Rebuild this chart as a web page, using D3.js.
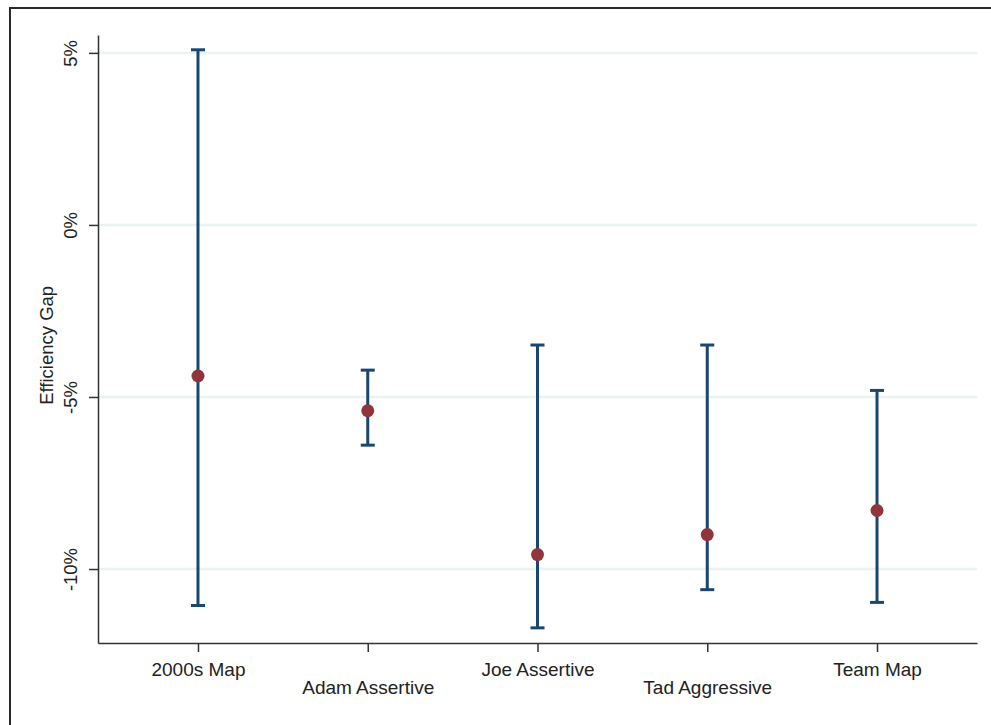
<!DOCTYPE html>
<html>
<head>
<meta charset="utf-8">
<script src="https://cdn.jsdelivr.net/npm/d3@7"></script>
<style>
  body { margin: 0; background: #fff; }
  svg { display: block; font-family: Arial, "Liberation Sans", sans-serif; }
</style>
</head>
<body>
<div id="chart"></div>
<script>
// plans and their estimates (efficiency gap, %)
const plans = ["2000s Map", "Adam Assertive", "Joe Assertive", "Tad Aggressive", "Team Map"];
const estimate = [-4.39, -5.40, -9.58, -9.00, -8.30];
const upper = [5.09, -4.22, -3.49, -3.49, -4.81];
const lower = [-11.06, -6.40, -11.71, -10.60, -10.97];
const yTicks = [5, 0, -5, -10];

const width = 991;
const height = 725;
const plotLeft = 98, plotRight = 977, plotTop = 35, plotBottom = 643;

const svg = d3.select("#chart").append("svg")
  .attr("width", width)
  .attr("height", height);

// outer frame (only top and left visible in the crop)
svg.append("rect")
  .attr("x", 10)
  .attr("y", 8)
  .attr("width", 1000)
  .attr("height", 760)
  .attr("fill", "none")
  .attr("stroke", "#2a2a2a")
  .attr("stroke-width", 2);

const x = d3.scalePoint()
  .domain(plans)
  .range([plotLeft, plotRight])
  .padding(0.589);

const y = d3.scaleLinear()
  .domain([-12.15, 5.52])
  .range([plotBottom, plotTop]);

// gridlines
svg.selectAll("line.grid")
  .data(yTicks)
  .enter()
  .append("line")
  .attr("class", "grid")
  .attr("x1", plotLeft + 1)
  .attr("x2", plotRight)
  .attr("y1", (d) => y(d))
  .attr("y2", (d) => y(d))
  .attr("stroke", "#eaf2f3")
  .attr("stroke-width", 2.5);

// y axis
const yAxis = svg.append("g")
  .attr("transform", `translate(${plotLeft},0)`)
  .call(d3.axisLeft(y).tickValues(yTicks).tickSize(9).tickFormat((d) => d + "%").tickSizeOuter(0));
yAxis.select(".domain").attr("stroke", "#333").attr("stroke-width", 1.5);
yAxis.selectAll(".tick line").attr("stroke", "#333").attr("stroke-width", 1.5);
yAxis.selectAll(".tick text")
  .attr("font-size", 18.5)
  .attr("fill", "#222")
  .attr("x", 0)
  .attr("dy", 0)
  .attr("text-anchor", "middle")
  .attr("transform", "translate(-21,0) rotate(-90)");

svg.append("text")
  .attr("transform", `translate(53,${y(-3.5)}) rotate(-90)`)
  .attr("text-anchor", "middle")
  .attr("font-size", 18.5)
  .attr("fill", "#222")
  .text("Efficiency Gap");

// x axis
const xAxis = svg.append("g")
  .attr("transform", `translate(0,${plotBottom})`)
  .call(d3.axisBottom(x).tickSize(9).tickSizeOuter(0));
xAxis.select(".domain").attr("stroke", "#333").attr("stroke-width", 1.5);
xAxis.selectAll(".tick line").attr("stroke", "#333").attr("stroke-width", 1.5);
xAxis.selectAll(".tick text")
  .attr("font-size", 19)
  .attr("fill", "#222")
  .attr("dy", 0)
  .attr("y", (d, i) => i % 2 === 0 ? 33 : 51);

// error bars
const data = plans.map((p, i) => ({ plan: p, est: estimate[i], hi: upper[i], lo: lower[i] }));
const barColor = "#1a476f";
const cap = 7;

svg.selectAll("line.bar")
  .data(data)
  .enter()
  .append("line")
  .attr("x1", (d) => x(d.plan))
  .attr("x2", (d) => x(d.plan))
  .attr("y1", (d) => y(d.hi))
  .attr("y2", (d) => y(d.lo))
  .attr("stroke", barColor)
  .attr("stroke-width", 3);

["hi", "lo"].forEach((k) => {
  svg.selectAll("line.cap-" + k)
    .data(data)
    .enter()
    .append("line")
    .attr("x1", (d) => x(d.plan) - cap)
    .attr("x2", (d) => x(d.plan) + cap)
    .attr("y1", (d) => y(d[k]))
    .attr("y2", (d) => y(d[k]))
    .attr("stroke", barColor)
    .attr("stroke-width", 3);
});

svg.selectAll("circle")
  .data(data)
  .enter()
  .append("circle")
  .attr("cx", (d) => x(d.plan))
  .attr("cy", (d) => y(d.est))
  .attr("r", 6.5)
  .attr("fill", "#90353b");
</script>
</body>
</html>
